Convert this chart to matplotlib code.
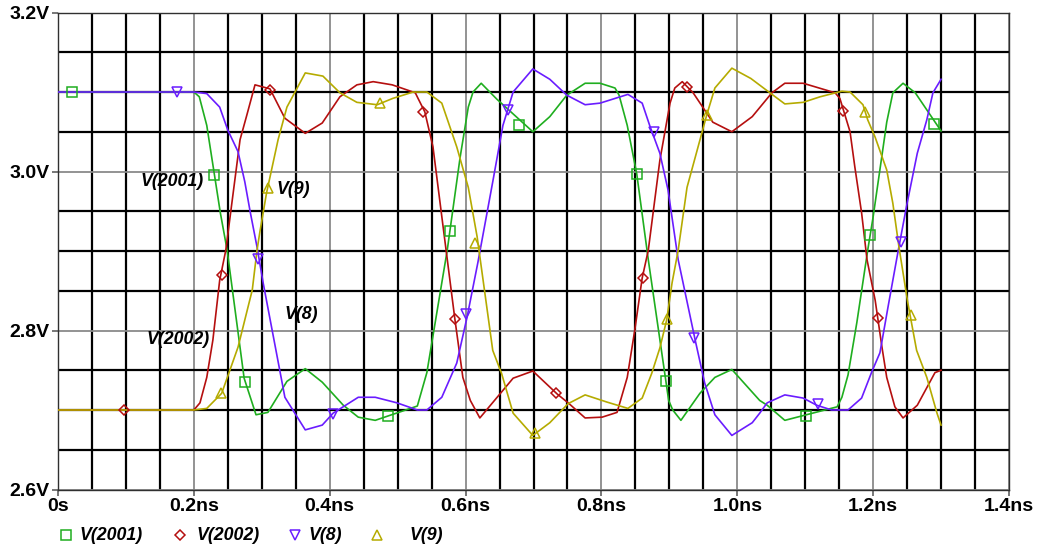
import matplotlib.pyplot as plt
import matplotlib.transforms as mtransforms
from matplotlib.ticker import MultipleLocator
from matplotlib.lines import Line2D

# time in ns, voltage in V
t_2001 = [0, 0.2, 0.208, 0.219, 0.239, 0.249, 0.274, 0.2915, 0.309, 0.337, 0.364, 0.389, 0.42, 0.442,
          0.467, 0.529, 0.543, 0.573, 0.592, 0.604, 0.611, 0.623, 0.646, 0.699, 0.724, 0.749, 0.776,
          0.798, 0.82, 0.826, 0.838, 0.852, 0.869, 0.899, 0.905, 0.917, 0.945, 0.967, 0.992, 1.033,
          1.044, 1.07, 1.147, 1.154, 1.163, 1.176, 1.192, 1.2, 1.22, 1.229, 1.244, 1.262, 1.3]
v_2001 = [3.1, 3.1, 3.094, 3.058, 2.948, 2.901, 2.74, 2.694, 2.697, 2.736, 2.752, 2.735, 2.706, 2.691,
          2.687, 2.705, 2.747, 2.901, 3.018, 3.081, 3.1, 3.111, 3.091, 3.05, 3.069, 3.096, 3.111,
          3.111, 3.105, 3.096, 3.058, 2.997, 2.889, 2.712, 2.7, 2.687, 2.721, 2.741, 2.751, 2.712,
          2.706, 2.687, 2.704, 2.716, 2.744, 2.81, 2.901, 2.943, 3.062, 3.099, 3.111, 3.099, 3.051]

t_2002 = [0, 0.2, 0.209, 0.219, 0.228, 0.238, 0.247, 0.268, 0.278, 0.29, 0.312, 0.334, 0.364, 0.389,
          0.415, 0.44, 0.464, 0.492, 0.526, 0.53, 0.54, 0.552, 0.567, 0.584, 0.596, 0.607, 0.621,
          0.67, 0.699, 0.735, 0.751, 0.776, 0.801, 0.823, 0.838, 0.849, 0.86, 0.869, 0.886, 0.901,
          0.908, 0.919, 0.935, 0.964, 0.992, 1.022, 1.051, 1.07, 1.097, 1.144, 1.151, 1.166, 1.173,
          1.183, 1.191, 1.203, 1.213, 1.22, 1.232, 1.244, 1.265, 1.291, 1.3]
v_2002 = [2.7, 2.7, 2.709, 2.741, 2.788, 2.863, 2.901, 3.04, 3.071, 3.109, 3.104, 3.067, 3.048, 3.061,
          3.094, 3.109, 3.113, 3.109, 3.099, 3.092, 3.075, 3.031, 2.93, 2.816, 2.741, 2.712, 2.69,
          2.74, 2.749, 2.72, 2.709, 2.69, 2.691, 2.697, 2.741, 2.8, 2.866, 2.901, 3.014, 3.086,
          3.105, 3.113, 3.099, 3.062, 3.05, 3.069, 3.099, 3.111, 3.111, 3.099, 3.092, 3.05, 3.006,
          2.948, 2.889, 2.838, 2.779, 2.741, 2.704, 2.69, 2.706, 2.747, 2.75]

t_8 = [0, 0.2, 0.219, 0.238, 0.25, 0.265, 0.275, 0.283, 0.293, 0.302, 0.334, 0.364, 0.389, 0.405,
       0.442, 0.467, 0.499, 0.529, 0.543, 0.565, 0.587, 0.602, 0.618, 0.64, 0.655, 0.67, 0.699,
       0.724, 0.749, 0.776, 0.798, 0.839, 0.86, 0.871, 0.886, 0.898, 0.913, 0.938, 0.952, 0.967,
       0.992, 1.022, 1.033, 1.044, 1.07, 1.097, 1.117, 1.139, 1.163, 1.183, 1.198, 1.21, 1.222,
       1.237, 1.25, 1.265, 1.279, 1.288, 1.3]
v_8 = [3.1, 3.1, 3.098, 3.081, 3.052, 3.025, 2.987, 2.949, 2.905, 2.86, 2.716, 2.675, 2.681, 2.696,
       2.716, 2.716, 2.709, 2.7, 2.7, 2.716, 2.759, 2.816, 2.885, 2.987, 3.058, 3.1, 3.129,
       3.116, 3.096, 3.084, 3.086, 3.097, 3.086, 3.058, 3.023, 2.977, 2.889, 2.788, 2.734, 2.694,
       2.668, 2.684, 2.696, 2.709, 2.719, 2.715, 2.706, 2.7, 2.7, 2.715, 2.748, 2.772, 2.83,
       2.901, 2.96, 3.023, 3.065, 3.099, 3.116]

t_9 = [0, 0.2, 0.219, 0.241, 0.253, 0.265, 0.286, 0.293, 0.297, 0.307, 0.324, 0.337, 0.364, 0.39,
       0.415, 0.44, 0.47, 0.493, 0.523, 0.543, 0.565, 0.587, 0.604, 0.617, 0.64, 0.653, 0.67,
       0.699, 0.724, 0.751, 0.776, 0.808, 0.839, 0.86, 0.874, 0.886, 0.896, 0.904, 0.913, 0.926,
       0.941, 0.955, 0.967, 0.992, 1.02, 1.048, 1.07, 1.097, 1.122, 1.154, 1.166, 1.185, 1.192,
       1.203, 1.22, 1.229, 1.238, 1.251, 1.264, 1.279, 1.294, 1.3]
v_9 = [2.7, 2.7, 2.702, 2.721, 2.75, 2.779, 2.851, 2.901, 2.923, 2.973, 3.04, 3.081, 3.124, 3.12,
       3.099, 3.087, 3.084, 3.092, 3.1, 3.1, 3.086, 3.031, 2.98, 2.918, 2.775, 2.746, 2.696,
       2.668, 2.684, 2.708, 2.719, 2.71, 2.702, 2.715, 2.746, 2.778, 2.813, 2.86, 2.901, 2.98,
       3.027, 3.071, 3.105, 3.13, 3.117, 3.099, 3.085, 3.087, 3.094, 3.101, 3.1, 3.084, 3.065,
       3.043, 3.002, 2.96, 2.905, 2.835, 2.775, 2.741, 2.696, 2.681]

# marker positions (sparse symbols on each trace)
mt_2001 = [0.02, 0.23, 0.275, 0.486, 0.577, 0.679, 0.852, 0.895, 1.101, 1.195, 1.29]
mv_2001 = [3.1, 2.995, 2.735, 2.692, 2.925, 3.058, 2.997, 2.736, 2.692, 2.92, 3.06]
mt_2002 = [0.097, 0.242, 0.312, 0.537, 0.584, 0.733, 0.861, 0.926, 1.156, 1.207]
mv_2002 = [2.7, 2.87, 3.103, 3.075, 2.815, 2.721, 2.866, 3.106, 3.076, 2.816]
mt_8 = [0.175, 0.294, 0.405, 0.6, 0.662, 0.877, 0.936, 1.119, 1.241]
mv_8 = [3.1, 2.89, 2.695, 2.821, 3.077, 3.05, 2.79, 2.707, 2.911]
mt_9 = [0.24, 0.309, 0.474, 0.614, 0.702, 0.896, 0.955, 1.188, 1.256]
mv_9 = [2.721, 2.979, 3.086, 2.91, 2.671, 2.815, 3.071, 3.075, 2.819]

names = ["V(2001)", "V(2002)", "V(8)", "V(9)"]
colors = ["#1fae1f", "#b50f0f", "#6a1cff", "#b5ab00"]
mstyles = ["s", "D", "v", "^"]
msizes = [7, 5.5, 7, 7]

W, H = 1047, 547
fig = plt.figure(figsize=(W / 100, H / 100), dpi=100)
ax = fig.add_axes([58 / W, 1 - 489.5 / H, (1009 - 58) / W, (489.5 - 12.5) / H])

series = [(t_2001, v_2001, mt_2001, mv_2001),
          (t_2002, v_2002, mt_2002, mv_2002),
          (t_8, v_8, mt_8, mv_8),
          (t_9, v_9, mt_9, mv_9)]
for (t, v, mt, mv), c, m, ms in zip(series, colors, mstyles, msizes):
    ax.plot(t, v, color=c, lw=1.2, zorder=3)
    ax.plot(mt, mv, ls="none", marker=m, ms=ms, mfc="none", mec=c, mew=1.1, zorder=4)

ax.set_xlim(0, 1.4)
ax.set_ylim(2.6, 3.2)
ax.xaxis.set_major_locator(MultipleLocator(0.2))
ax.xaxis.set_minor_locator(MultipleLocator(0.05))
ax.yaxis.set_major_locator(MultipleLocator(0.2))
ax.yaxis.set_minor_locator(MultipleLocator(0.05))
ax.grid(which="minor", color="black", lw=1.6, zorder=1)
ax.grid(which="major", color="#8a8a8a", lw=1.3, zorder=1)
ax.set_axisbelow(True)

xlabels = ["0s", "0.2ns", "0.4ns", "0.6ns", "0.8ns", "1.0ns", "1.2ns", "1.4ns"]
ylabels = ["2.6V", "2.8V", "3.0V", "3.2V"]
ax.set_xticks([0, 0.2, 0.4, 0.6, 0.8, 1.0, 1.2, 1.4])
ax.set_xticklabels(xlabels)
ax.set_yticks([2.6, 2.8, 3.0, 3.2])
ax.set_yticklabels(ylabels)

lab_font = dict(family="Liberation Sans", weight="bold", size=14)
for lab in ax.get_xticklabels():
    lab.set(**lab_font)
    lab.set_transform(lab.get_transform() + mtransforms.ScaledTranslation(6 / 100, 0, fig.dpi_scale_trans))
for lab in ax.get_yticklabels():
    lab.set(**lab_font)
ax.tick_params(which="major", direction="out", length=4, width=1.2, color="#606060", pad=2)
ax.tick_params(which="minor", length=0)

for s in ax.spines.values():
    s.set_color("#303030")
    s.set_linewidth(1.0)

# trace labels inside the plot
tfont = dict(family="Liberation Sans", weight="bold", style="italic", size=12.8)
ax.text(0.121, 2.987, "V(2001)", va="center", **tfont)
ax.text(0.322, 2.977, "V(9)", va="center", **tfont)
ax.text(0.131, 2.789, "V(2002)", va="center", **tfont)
ax.text(0.333, 2.820, "V(8)", va="center", **tfont)

# legend row under the axis
leg_mx = [66, 180, 295, 377]
leg_tx = [80, 197, 309, 410]
leg_y = 1 - 535 / H
for name, c, m, ms, mx, tx in zip(names, colors, mstyles, msizes, leg_mx, leg_tx):
    fig.add_artist(Line2D([mx / W], [leg_y], marker=m, ms=ms - 0.5, mfc="none", mec=c, mew=1.1,
                          ls="none", transform=fig.transFigure))
    fig.text(tx / W, leg_y, name, va="center", ha="left", **tfont)

fig.savefig("out.png", dpi=100)
